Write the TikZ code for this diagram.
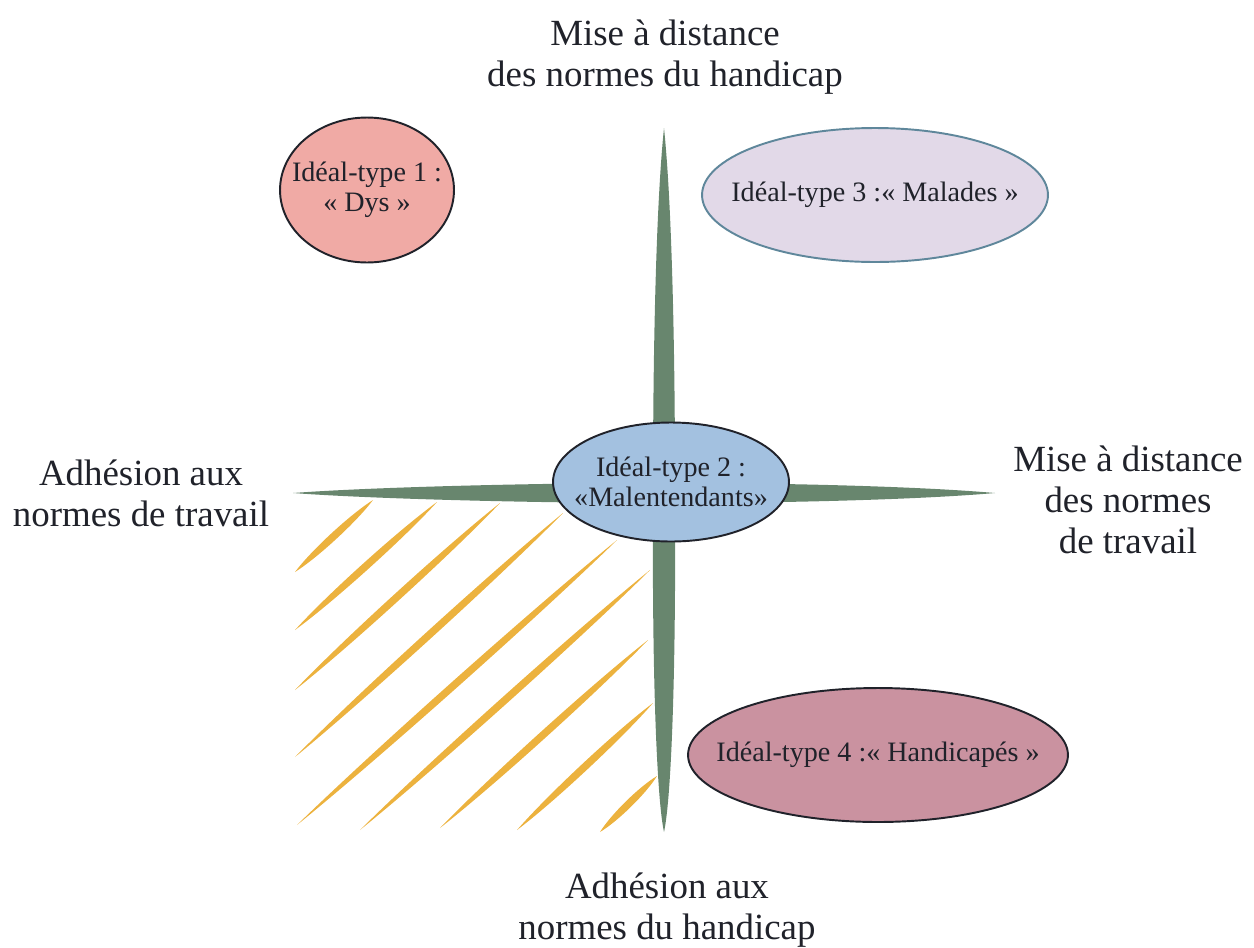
\documentclass[tikz,border=0pt]{standalone}
\usepackage{fontspec}
\setmainfont{Liberation Serif}
\usetikzlibrary{shapes.geometric,calc}
\definecolor{AxisGreen}{RGB}{104,134,110}
\definecolor{HatchGold}{RGB}{236,178,62}
\definecolor{DysPink}{RGB}{240,170,165}
\definecolor{MaladesLilac}{RGB}{226,217,232}
\definecolor{MaladesEdge}{RGB}{95,135,155}
\definecolor{MalentBlue}{RGB}{163,193,224}
\definecolor{HandiMauve}{RGB}{202,146,160}
\definecolor{InkDark}{RGB}{32,34,42}
\begin{document}
\begin{tikzpicture}
   [x=0.02cm, y=-0.02cm,
   idealtype/.style={ellipse,draw=InkDark,line width=1.1pt,inner sep=0pt},
   idealtext/.style={align=center,font=\fontsize{16}{17}\selectfont,text=InkDark},
   axislabel/.style={align=center,font=\fontsize{21}{23.5}\selectfont,text=InkDark},
   hatchstroke/.style={fill=HatchGold}]
    \useasboundingbox (0,0) rectangle (1254,947);
    % hachures
    \foreach \xa/\ya/\xb/\yb in {295/572/373/500, 295/630/437/502, 295/690/500/503,
      295/757/563/513, 297/825/617/540, 360/830/650/570, 440/828/648/640,
      517/830/653/703, 600/832/657/776}{
      \coordinate (s) at (\xa,\ya);
      \coordinate (e) at (\xb,\yb);
      \fill[hatchstroke] (s) .. controls ($(s)!0.25!(e)!2.8pt!90:(e)$) and ($(s)!0.75!(e)!2.8pt!90:(e)$) .. (e)
        .. controls ($(s)!0.75!(e)!2.8pt!-90:(e)$) and ($(s)!0.25!(e)!2.8pt!-90:(e)$) .. (s);
    }
    % axes
    \coordinate (nord) at (664,128);
    \coordinate (est) at (995,493);
    \coordinate (sud) at (664,832);
    \coordinate (ouest) at (293,493);
    \fill[AxisGreen] (nord) .. controls (673,215) and (675,380) .. (675,483)
      .. controls (775,483) and (915,486) .. (est)
      .. controls (915,500) and (775,503) .. (675,503)
      .. controls (676,680) and (671,800) .. (sud)
      .. controls (657,800) and (652,680) .. (653,503)
      .. controls (540,503) and (373,499) .. (ouest)
      .. controls (373,487) and (540,483) .. (653,483)
      .. controls (653,380) and (655,215) .. (nord) -- cycle;
    % ideal-types
    \node[idealtype,fill=DysPink,minimum width=3.48cm,minimum height=2.9cm] (dys) at (367,190) {};
    \node[idealtext] (dystxt) at (dys) {Idéal-type 1 :\\« Dys »};
    \node[idealtype,fill=MaladesLilac,draw=MaladesEdge,minimum width=6.92cm,minimum height=2.68cm] (malades) at (875,195) {};
    \node[idealtext] (maladestxt) at (malades) {Idéal-type 3 :« Malades »};
    \node[idealtype,fill=MalentBlue,minimum width=4.72cm,minimum height=2.38cm] (malent) at (671,482) {};
    \node[idealtext] (malenttxt) at (malent) {Idéal-type 2 :\\«Malentendants»};
    \node[idealtype,fill=HandiMauve,minimum width=7.6cm,minimum height=2.68cm] (handi) at (878,755) {};
    \node[idealtext] (handitxt) at (handi) {Idéal-type 4 :« Handicapés »};
    % libelles des axes
    \node[axislabel] (haut) at (665,57) {Mise à distance\\des normes du handicap};
    \node[axislabel] (bas) at (667,910) {Adhésion aux\\normes du handicap};
    \node[axislabel] (gauche) at (141,493) {Adhésion aux\\normes de travail};
    \node[axislabel] (droite) at (1128,500) {Mise à distance\\des normes\\de travail};
\end{tikzpicture}
\end{document}
